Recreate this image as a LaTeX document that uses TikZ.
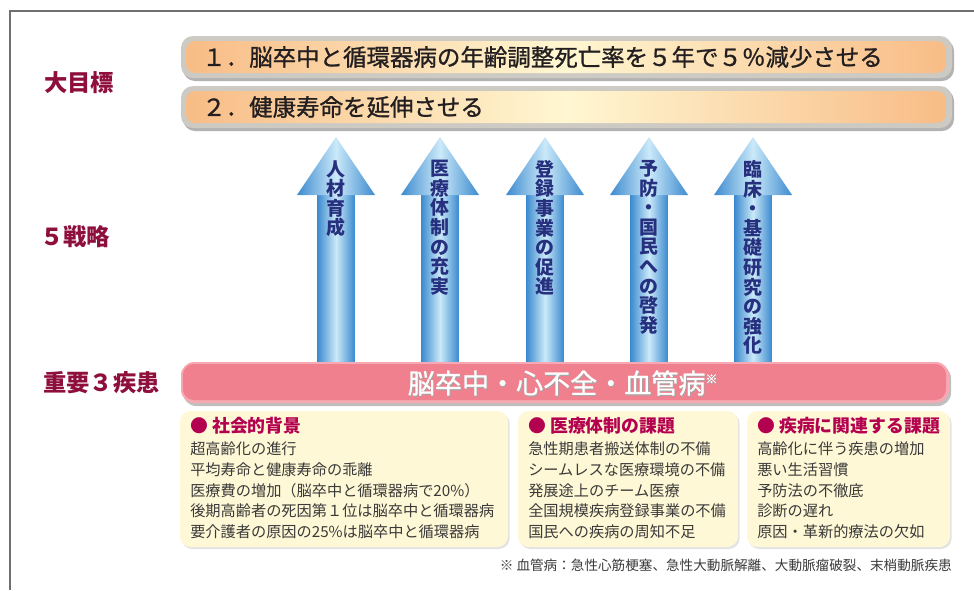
\documentclass[tikz,border=0pt]{standalone}
\usepackage{fontspec}
\setmainfont{Noto Sans CJK JP}
\newfontfamily\medfont{Noto Sans CJK JP}[FakeBold=1]
\usetikzlibrary{shadows}
\definecolor{lblred}{HTML}{8E0E3C}
\definecolor{hdmag}{HTML}{B3004F}
\definecolor{navy}{HTML}{26307F}
\definecolor{bantext}{HTML}{231F20}
\definecolor{bodytext}{HTML}{3A3A3A}
\definecolor{pinkbar}{HTML}{F1808E}
\definecolor{pinkedge}{HTML}{F6A9B2}
\definecolor{boxfill}{HTML}{FFF8D6}
\definecolor{bangray}{HTML}{CDCAC4}
\definecolor{banor}{HTML}{F8BC86}
\definecolor{banpale}{HTML}{FFF7D2}
\definecolor{arrdark}{HTML}{3D8BCF}
\definecolor{arrlight}{HTML}{CBE9F9}
\definecolor{framegray}{HTML}{707070}
\tikzset{
  lbl/.style={anchor=west, inner sep=0pt, text=lblred, font=\fontsize{17.5}{20}\selectfont\bfseries},
  bantxt/.style={anchor=west, inner sep=0pt, text=bantext, font=\fontsize{17.6}{20}\selectfont\medfont},
  banouter/.style={fill=bangray, rounded corners=9},
  baninner/.style={left color=banor, right color=banor, middle color=banpale, rounded corners=7},
  arrtxt/.style={anchor=north, inner sep=0pt, align=center, text=navy, font=\fontsize{14.2}{14.7}\selectfont\bfseries},
  infobox/.style={fill=boxfill, rounded corners=8, drop shadow={shadow xshift=1.2pt, shadow yshift=-1.5pt, fill=black!22}},
  hd/.style={anchor=west, inner sep=0pt, text=hdmag, font=\fontsize{13.4}{16}\selectfont\bfseries},
  bodyline/.style={anchor=west, inner sep=0pt, text=bodytext, font=\fontsize{11.4}{14}\selectfont},
}
\begin{document}
\begin{tikzpicture}[x=0.75pt, y=-0.75pt]
\useasboundingbox (0,0) rectangle (974,590);
% frame
\draw[framegray, line width=0.9pt] (10,590) -- (10,11) -- (974,11);

% labels
\node[lbl] (lgoal) at (44,83) {大目標};
\node[lbl] (lstrat) at (40,237) {５戦略};
\node[lbl] (ldis) at (43,383) {重要３疾患};

% banners
\fill[black!30, rounded corners=9] (183,39) rectangle (954,81);
\fill[banouter] (181,36) rectangle (952,78);
\shade[baninner] (186,41) rectangle (946,73);
\node[bantxt] (goal1) at (202,57) {１．脳卒中と循環器病の年齢調整死亡率を５年で５％減少させる};

\fill[black!30, rounded corners=9] (183,89) rectangle (954,131);
\fill[banouter] (181,86) rectangle (952,128);
\shade[baninner] (186,91) rectangle (946,123);
\node[bantxt] (goal2) at (202,107) {２．健康寿命を延伸させる};

% arrows
\foreach \cx/\nm/\txt in {336/s1/{人\\材\\育\\成},
                          440/s2/{医\\療\\体\\制\\の\\充\\実},
                          545/s3/{登\\録\\事\\業\\の\\促\\進},
                          649/s4/{予\\防\\・\\国\\民\\へ\\の\\啓\\発},
                          753/s5/{臨\\床\\・\\基\\礎\\研\\究\\の\\強\\化}}{
  \shade[left color=arrdark, right color=arrdark, middle color=arrlight]
    (\cx-18.5,194) rectangle (\cx+18.5,366);
  \shade[left color=arrdark, right color=arrdark, middle color=arrlight]
    (\cx,137) -- (\cx+39,195) -- (\cx-39,195) -- cycle;
  \node[arrtxt] (\nm) at (\cx,160) {\txt};
}

% pink bar
\fill[black!25, rounded corners=10] (183,365) rectangle (951,406);
\fill[pinkedge, rounded corners=10] (181,362) rectangle (949,403);
\fill[pinkbar, rounded corners=8] (183,364) rectangle (946,400);
\node[text=black!35, inner sep=0pt, font=\fontsize{20.3}{24}\selectfont\medfont] at (563.8,384.2) {脳卒中・心不全・血管病\textsuperscript{\fontsize{9}{10}\selectfont ※}};
\node[text=white, inner sep=0pt, font=\fontsize{20.3}{24}\selectfont\medfont] (dis) at (563,383) {脳卒中・心不全・血管病\textsuperscript{\fontsize{9}{10}\selectfont ※}};

% info boxes
\fill[infobox] (180,411) rectangle (508,547);
\fill[infobox] (518,411) rectangle (738,547);
\fill[infobox] (747,411) rectangle (950,547);

\node[hd] (h1) at (190,426) {● 社会的背景};
\node[hd] (h2) at (528,426) {● 医療体制の課題};
\node[hd] (h3) at (757,426) {● 疾病に関連する課題};

\foreach \t [count=\i] in {超高齢化の進行, 平均寿命と健康寿命の乖離, 医療費の増加（脳卒中と循環器病で20\%）, 後期高齢者の死因第１位は脳卒中と循環器病, 要介護者の原因の25\%は脳卒中と循環器病}
  \node[bodyline] (a\i) at (190,{449+20.7*(\i-1)}) {\t};
\foreach \t [count=\i] in {急性期患者搬送体制の不備, シームレスな医療環境の不備, 発展途上のチーム医療, 全国規模疾病登録事業の不備, 国民への疾病の周知不足}
  \node[bodyline] (b\i) at (528,{449+20.7*(\i-1)}) {\t};
\foreach \t [count=\i] in {高齢化に伴う疾患の増加, 悪い生活習慣, 予防法の不徹底, 診断の遅れ, 原因・革新的療法の欠如}
  \node[bodyline] (c\i) at (757,{449+20.7*(\i-1)}) {\t};

% footnote
\node[anchor=east, inner sep=0pt, text=bodytext, font=\fontsize{10.2}{12}\selectfont] (fn) at (952,565) {※ 血管病：急性心筋梗塞、急性大動脈解離、大動脈瘤破裂、末梢動脈疾患};
\end{tikzpicture}
\end{document}
